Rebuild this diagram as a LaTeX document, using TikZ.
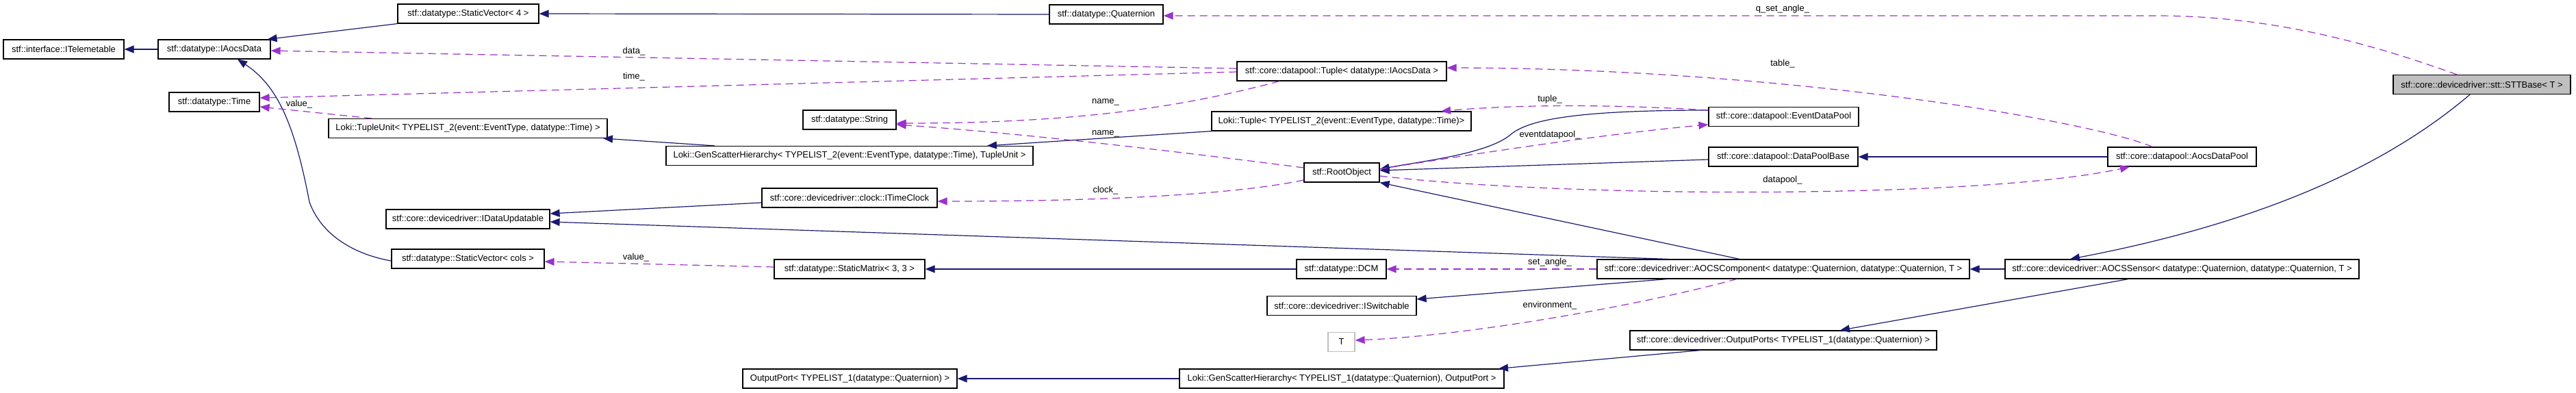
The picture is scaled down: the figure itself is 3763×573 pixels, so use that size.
\documentclass[tikz,border=0pt]{standalone}
\usepackage{fontspec}
\setmainfont{Liberation Sans}
\usetikzlibrary{arrows.meta}
\definecolor{inhc}{HTML}{191970}
\definecolor{usec}{HTML}{9A32CD}
\definecolor{sttfill}{HTML}{BFBFBF}
\definecolor{tbord}{HTML}{BFBFBF}
\begin{document}
\begin{tikzpicture}[x=1pt,y=-1pt,
  box/.style={draw=black, line width=1.2pt, minimum height=28pt, inner sep=0pt, font=\fontsize{13pt}{15pt}\selectfont, fill=white},
  inh/.style={draw=inhc, line width=1.2pt, -{Triangle[length=14pt,width=11pt]}},
  use/.style={draw=usec, line width=1.2pt, dash pattern=on 11pt off 7pt, -{Triangle[length=14pt,width=11pt]}},
  lbl/.style={font=\fontsize{13pt}{15pt}\selectfont, inner sep=0pt}]
\path[use as bounding box] (0,0) rectangle (3763,573);
% nodes
\node[box, minimum width=176pt] (itel) at (93,72) {stf::interface::ITelemetable};
\node[box, minimum width=164pt] (iaocs) at (313,72) {stf::datatype::IAocsData};
\node[box, minimum width=132pt] (time) at (313,149) {stf::datatype::Time};
\node[box, minimum width=206pt] (sv4) at (684,20) {stf::datatype::StaticVector< 4 >};
\node[box, minimum width=166pt] (quat) at (1616,21) {stf::datatype::Quaternion};
\node[box, minimum width=259pt, fill=sttfill] (stt) at (3625.5,123.5) {stf::core::devicedriver::stt::STTBase< T >};
\node[box, minimum width=306pt] (tupleA) at (1960,104) {stf::core::datapool::Tuple< datatype::IAocsData >};
\node[box, minimum width=407pt] (tunit) at (683.5,187.5) {Loki::TupleUnit< TYPELIST\_2(event::EventType, datatype::Time) >};
\node[box, minimum width=136pt] (string) at (1241,175) {stf::datatype::String};
\node[box, minimum width=536pt] (gsh2) at (1241,227.5) {Loki::GenScatterHierarchy< TYPELIST\_2(event::EventType, datatype::Time), TupleUnit >};
\node[box, minimum width=379pt] (ltuple) at (1959.5,177) {Loki::Tuple< TYPELIST\_2(event::EventType, datatype::Time)>};
\node[box, minimum width=219pt] (edp) at (2605.5,170.5) {stf::core::datapool::EventDataPool};
\node[box, minimum width=218pt] (dpb) at (2605,229) {stf::core::datapool::DataPoolBase};
\node[box, minimum width=217pt] (adp) at (3187.5,229) {stf::core::datapool::AocsDataPool};
\node[box, minimum width=110pt] (root) at (1960,252) {stf::RootObject};
\node[box, minimum width=256pt] (itc) at (1241,289) {stf::core::devicedriver::clock::ITimeClock};
\node[box, minimum width=239pt] (idu) at (683.5,320) {stf::core::devicedriver::IDataUpdatable};
\node[box, minimum width=223pt] (svc) at (683.5,378) {stf::datatype::StaticVector< cols >};
\node[box, minimum width=220pt] (smat) at (1241,393) {stf::datatype::StaticMatrix< 3, 3 >};
\node[box, minimum width=131pt] (dcm) at (1959.5,393) {stf::datatype::DCM};
\node[box, minimum width=544pt] (aocsc) at (2605,393) {stf::core::devicedriver::AOCSComponent< datatype::Quaternion, datatype::Quaternion, T >};
\node[box, minimum width=517pt] (aocss) at (3187.5,393) {stf::core::devicedriver::AOCSSensor< datatype::Quaternion, datatype::Quaternion, T >};
\node[box, minimum width=218pt] (isw) at (1960,446.5) {stf::core::devicedriver::ISwitchable};
\node[box, minimum width=39pt, draw=tbord] (T) at (1959.5,499.5) {T};
\node[box, minimum width=448pt] (oports) at (2605,497) {stf::core::devicedriver::OutputPorts< TYPELIST\_1(datatype::Quaternion) >};
\node[box, minimum width=313pt] (oport) at (1241.5,553) {OutputPort< TYPELIST\_1(datatype::Quaternion) >};
\node[box, minimum width=474pt] (gsh1) at (1960,553) {Loki::GenScatterHierarchy< TYPELIST\_1(datatype::Quaternion), OutputPort >};
% inheritance edges
\draw[inh] (iaocs.west) -- (itel.east);
\draw[inh] (sv4.south west) -- ([xshift=-5pt]iaocs.north east);
\draw[inh] (quat.west) -- (sv4.east);
\draw[inh] ([yshift=-3pt]svc.west) .. controls (520,372) and (470,345) .. (452,295) .. controls (430,180) and (405,125) .. ([xshift=34pt]iaocs.south);
\draw[inh] ([xshift=-197pt]gsh2.north) -- ([xshift=197.5pt]tunit.south);
\draw[inh] (ltuple.south west) -- ([xshift=201pt]gsh2.north);
\draw[inh] ([yshift=9.5pt]edp.west) .. controls (2300,161) and (2230,175) .. (2205,198) .. controls (2170,225) and (2080,235) .. ([yshift=5pt]root.east);
\draw[inh] ([yshift=-4pt]dpb.west) -- ([yshift=3pt]root.east);
\draw[inh] ([xshift=-64pt]aocsc.north) -- (root.south east);
\draw[inh] (adp.west) -- (dpb.east);
\draw[inh] ([yshift=-7pt]itc.west) -- ([yshift=8pt]idu.east);
\draw[inh] ([xshift=-168pt]aocsc.north) -- ([yshift=-4pt]idu.east);
\draw[inh] (dcm.west) -- (smat.east);
\draw[inh] ([xshift=-170pt]aocsc.south) -- ([yshift=9.5pt]isw.east);
\draw[inh] (aocss.west) -- (aocsc.east);
\draw[inh] ([xshift=-17.5pt]stt.south) .. controls (3500,230) and (3330,320) .. ([xshift=-163.5pt]aocss.north);
\draw[inh] ([xshift=-78.5pt]aocss.south) -- ([xshift=83pt]oports.north);
\draw[inh] ([xshift=-121pt]oports.south) -- ([xshift=229pt]gsh1.north);
\draw[inh] (gsh1.west) -- (oport.east);
% usage edges
\draw[use] ([xshift=-36.5pt]stt.north) .. controls (3480,70) and (3330,23) .. (3150,23) -- ([yshift=-2pt]quat.east);
\node[lbl] (l1) at (2604,13) {q\_set\_angle\_};
\draw[use] ([yshift=4pt]tupleA.west) -- ([yshift=-2pt]iaocs.east);
\node[lbl] (l2) at (926,75) {data\_};
\draw[use] ([yshift=-1pt]tupleA.west) -- ([yshift=6pt]time.east);
\node[lbl] (l3) at (926,112) {time\_};
\draw[use] ([xshift=-140.5pt]tunit.north) -- ([yshift=-7pt]time.east);
\node[lbl] (l4) at (437,152) {value\_};
\draw[use] ([xshift=-43.5pt]adp.north) .. controls (3050,175) and (2600,100) .. ([yshift=5pt]tupleA.east);
\node[lbl] (l5) at (2604,93) {table\_};
\draw[use] ([xshift=-91pt]tupleA.south) .. controls (1750,150) and (1600,180) .. ([yshift=-5pt]string.east);
\node[lbl] (l6) at (1615,149) {name\_};
\draw[use] ([yshift=7pt]root.west) .. controls (1750,225) and (1500,195) .. ([yshift=-7pt]string.east);
\node[lbl] (l7) at (1615,195) {name\_};
\draw[use] ([yshift=9.5pt]edp.west) .. controls (2400,155) and (2250,150) .. ([xshift=145.5pt]ltuple.north);
\node[lbl] (l8) at (2264,145) {tuple\_};
\draw[use] ([yshift=5pt]root.east) .. controls (2150,225) and (2350,195) .. ([yshift=-11.5pt]edp.west);
\node[lbl] (l9) at (2264,197) {eventdatapool\_};
\draw[use] ([yshift=-5pt]root.east) .. controls (2300,290) and (2900,290) .. ([xshift=-76.5pt]adp.south);
\node[lbl] (l10) at (2604,263) {datapool\_};
\draw[use] ([yshift=-11pt]root.west) .. controls (1800,285) and (1600,294) .. ([yshift=-5pt]itc.east);
\node[lbl] (l11) at (1615,278) {clock\_};
\draw[use] (aocsc.west) -- (dcm.east);
\node[lbl] (l12) at (2264,383) {set\_angle\_};
\draw[use] ([xshift=-68pt]aocsc.south) .. controls (2400,445) and (2150,490) .. ([yshift=2.5pt]T.east);
\node[lbl] (l13) at (2264,446) {environment\_};
\draw[use] ([yshift=3pt]smat.west) -- ([yshift=-4pt]svc.east);
\node[lbl] (l14) at (929,376) {value\_};
\end{tikzpicture}
\end{document}
